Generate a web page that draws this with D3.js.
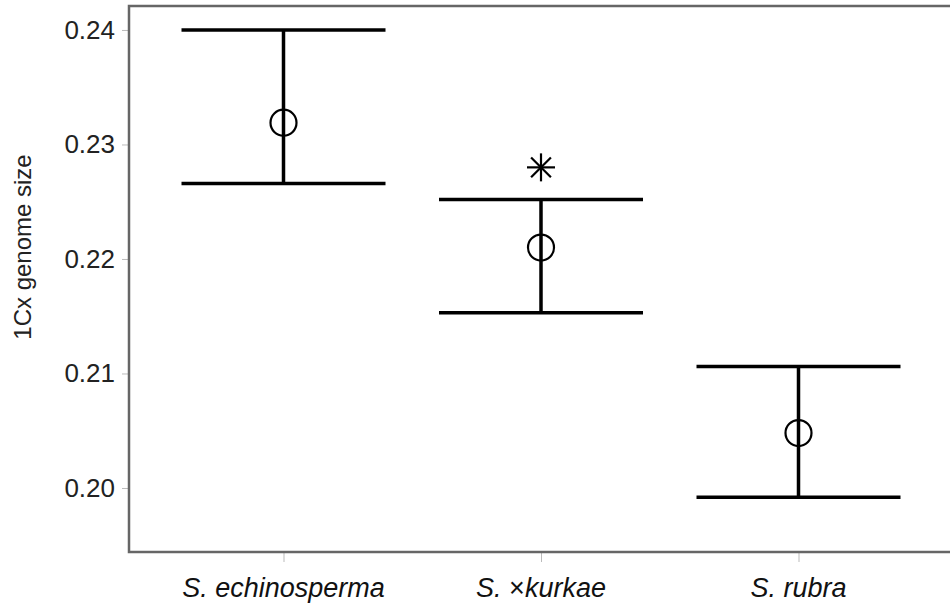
<!DOCTYPE html>
<html><head><meta charset="utf-8">
<script src="https://cdn.jsdelivr.net/npm/d3@7"></script>
<style>body{margin:0;background:#fff;overflow:hidden;} text{font-family:"Liberation Sans",Arial,sans-serif;}</style>
</head><body>
<svg id="c" width="950" height="603"></svg>
<script>
const categories = ["S. echinosperma", "S. ×kurkae", "S. rubra"];
const means = [0.2319, 0.2210, 0.2048];
const upper = [0.2400, 0.2252, 0.2106];
const lower = [0.2266, 0.2153, 0.1992];
const significant = [false, true, false];
const asteriskValue = [null, 0.2280, null];
const yTicks = [0.20, 0.21, 0.22, 0.23, 0.24];

const svg = d3.select("#c");
const m = {left:129, right:-3, top:6, bottom:51};
const W = 950, H = 603;
const x = d3.scalePoint().domain(categories).range([m.left, W - m.right]).padding(0.6);
const y = d3.scaleLinear().domain([0.19441, 0.24218]).range([H - m.bottom, m.top - 1]);

// axes
const yAx = svg.append("g").attr("transform", `translate(${m.left},0)`)
  .call(d3.axisLeft(y).tickValues(yTicks).tickFormat(d3.format(".2f")).tickSize(7).tickPadding(7));
yAx.select(".domain").remove();
yAx.selectAll("line").attr("stroke","#bbb");
yAx.selectAll("text").attr("font-size",26).attr("fill","#222").attr("font-family","Liberation Sans, Arial, sans-serif");

const xAx = svg.append("g").attr("transform", `translate(0,${H - m.bottom})`)
  .call(d3.axisBottom(x).tickSize(10).tickPadding(14).tickFormat(""));
xAx.select(".domain").remove();
xAx.selectAll("line").attr("stroke","#bbb");

// x labels with mixed italics
const lab = svg.append("g").selectAll("text").data(categories).join("text")
  .attr("x", d => x(d)).attr("y", 597).attr("text-anchor","middle")
  .attr("font-size",27).attr("fill","#111");
lab.each(function(d){
  const t = d3.select(this);
  const parts = d.split(/(×)/);
  parts.forEach(p => { if (p) t.append("tspan").attr("font-style", p === "×" ? "normal" : "italic").text(p); });
});

// frame
svg.append("rect").attr("x", m.left).attr("y", m.top)
  .attr("width", W - m.right - m.left).attr("height", H - m.bottom - m.top)
  .attr("fill","none").attr("stroke","#666").attr("stroke-width",2.5);

// y label
svg.append("text").attr("transform", `translate(31,247) rotate(-90)`)
  .attr("text-anchor","middle").attr("font-size",24).attr("fill","#222").text("1Cx genome size");

// error bars
const capHalf = 102;
const g = svg.append("g");
categories.forEach((c,i) => {
  const cx = x(c);
  g.append("line").attr("x1",cx).attr("x2",cx).attr("y1",y(upper[i])).attr("y2",y(lower[i]))
    .attr("stroke","#000").attr("stroke-width",3.5);
  [upper[i], lower[i]].forEach(v => g.append("line").attr("x1",cx-capHalf).attr("x2",cx+capHalf)
    .attr("y1",y(v)).attr("y2",y(v)).attr("stroke","#000").attr("stroke-width",3.5));
  g.append("circle").attr("cx",cx).attr("cy",y(means[i])).attr("r",13)
    .attr("fill","#fff").attr("stroke","#000").attr("stroke-width",2.2);
  g.append("line").attr("x1",cx).attr("x2",cx).attr("y1",y(means[i])-13).attr("y2",y(means[i])+13)
    .attr("stroke","#000").attr("stroke-width",3.5);
  if (significant[i]) {
    const ay = y(asteriskValue[i]); const r = 14;
    for (let k = 0; k < 4; k++) {
      const a = k * Math.PI / 4;
      g.append("line").attr("x1", cx - r*Math.cos(a)).attr("x2", cx + r*Math.cos(a))
        .attr("y1", ay - r*Math.sin(a)).attr("y2", ay + r*Math.sin(a))
        .attr("stroke","#000").attr("stroke-width",2.2);
    }
  }
});
</script>
</body></html>
